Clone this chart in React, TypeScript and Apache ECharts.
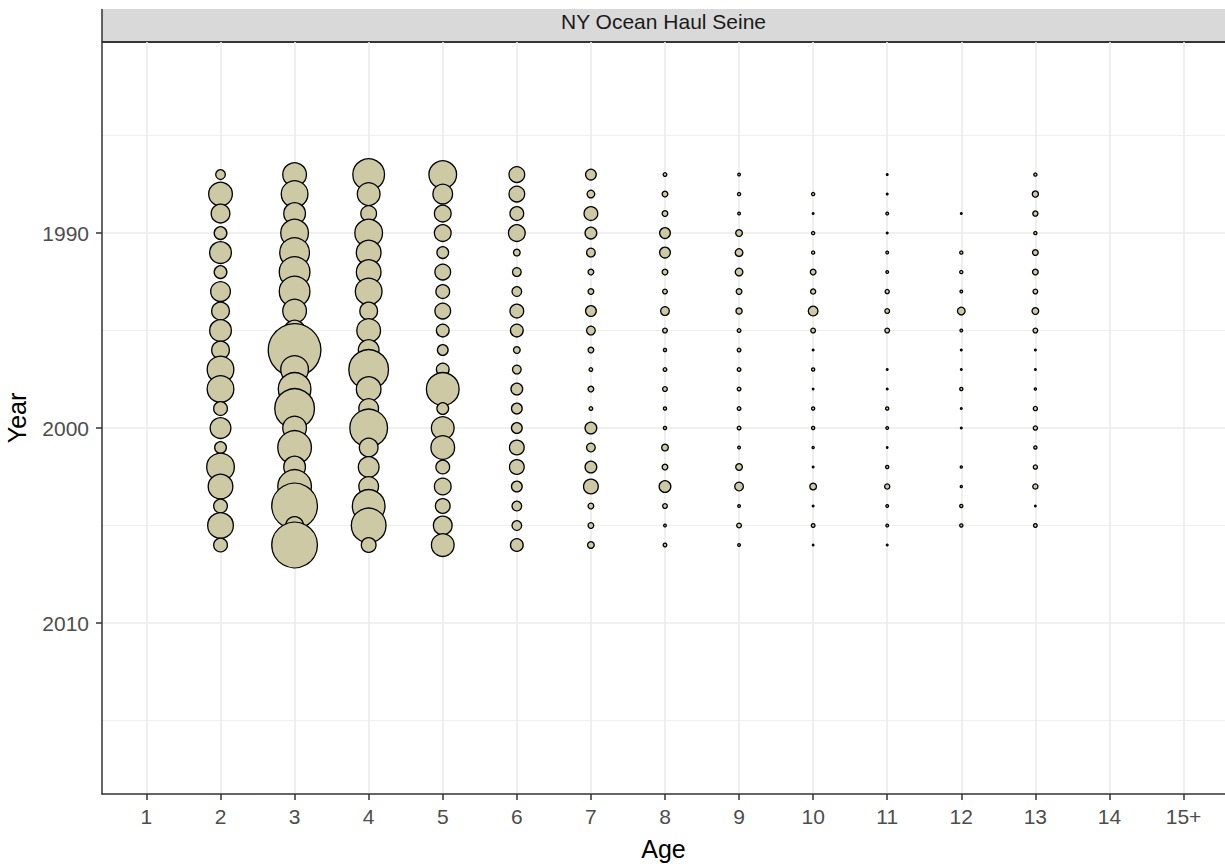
import React, { useEffect, useRef } from "react";
import * as echarts from "echarts";

const ageLabels = ["1", "2", "3", "4", "5", "6", "7", "8", "9", "10", "11", "12", "13", "14", "15+"];
const years = [1987, 1988, 1989, 1990, 1991, 1992, 1993, 1994, 1995, 1996, 1997, 1998, 1999, 2000, 2001, 2002, 2003, 2004, 2005, 2006];
const yearTicks = [1990, 2000, 2010];
const yearMinor = [1985, 1995, 2005, 2015];
const stripTitle = "NY Ocean Haul Seine";

// relative abundance index by age (rows follow `years`)
const age2 = [121, 625, 400, 196, 529, 196, 441, 361, 529, 361, 784, 784, 225, 484, 169, 841, 676, 225, 729, 225];
const age3 = [625, 784, 529, 841, 961, 1024, 1024, 625, 484, 2916, 841, 1156, 1681, 625, 1225, 529, 1225, 2209, 361, 2209];
const age4 = [1089, 576, 289, 841, 676, 676, 784, 361, 625, 484, 1681, 676, 441, 1521, 400, 484, 441, 1156, 1296, 256];
const age5 = [841, 441, 324, 324, 169, 289, 225, 289, 196, 144, 196, 1156, 169, 576, 625, 225, 324, 256, 400, 576];
const age6 = [289, 289, 225, 324, 64, 100, 121, 225, 196, 64, 100, 169, 144, 144, 256, 256, 144, 121, 121, 196];
const age7 = [144, 81, 225, 169, 100, 49, 49, 144, 100, 49, 25, 49, 25, 169, 100, 169, 256, 49, 49, 64];
const age8 = [25, 49, 49, 144, 144, 49, 36, 100, 36, 20, 25, 36, 20, 20, 64, 49, 169, 36, 16, 25];
const age9 = [16, 20, 16, 64, 81, 81, 49, 56, 25, 25, 25, 25, 25, 25, 16, 64, 100, 16, 36, 16];
const age10 = [null, 20, 9, 20, 20, 49, 42, 121, 36, 9, 20, 4, 20, 20, 12, 9, 64, 9, 25, 6];
const age11 = [9, 9, 16, 9, 16, 16, 30, 36, 36, null, 9, 9, 20, 16, 6, 20, 42, 16, 16, 9];
const age12 = [null, null, 9, null, 20, 20, 16, 81, 16, 9, 9, 20, 9, 9, null, 12, 12, 20, 20, null];
const age13 = [20, 56, 42, 20, 49, 49, 36, 64, 36, 9, 9, 12, 30, 30, 20, 30, 42, 4, 25, null];

const byAge: [number, (number | null)[]][] = [
  [2, age2], [3, age3], [4, age4], [5, age5], [6, age6], [7, age7],
  [8, age8], [9, age9], [10, age10], [11, age11], [12, age12], [13, age13],
];

const FONT = "'Liberation Sans', Arial, sans-serif";

export default function App() {
  const ref = useRef<HTMLDivElement>(null);
  useEffect(() => {
    if (!ref.current) return;
    const chart = echarts.init(ref.current, null, { renderer: "svg" });
    const points: number[][] = [];
    byAge.forEach(([age, vals]) => {
      vals.forEach((v, i) => {
        if (v !== null && v !== undefined) points.push([age, years[i], v]);
      });
    });
    const gridMarks: any[] = [];
    ageLabels.forEach((_, i) => gridMarks.push({ xAxis: i + 1, lineStyle: { width: 1.6 } }));
    yearTicks.forEach((y) => gridMarks.push({ yAxis: y, lineStyle: { width: 1.6 } }));
    yearMinor.forEach((y) => gridMarks.push({ yAxis: y, lineStyle: { width: 0.8 } }));

    chart.setOption({
      animation: false,
      backgroundColor: "#ffffff",
      textStyle: { fontFamily: FONT },
      grid: { left: 102, top: 42, right: 0, bottom: 73, containLabel: false, outerBoundsMode: "none" },
      xAxis: {
        type: "value",
        min: 0.4,
        max: 15.56,
        z: 3,
        name: "Age",
        nameLocation: "middle",
        nameGap: 42,
        nameTextStyle: { fontSize: 25, color: "#000", fontFamily: FONT },
        splitLine: { show: false },
        axisLine: { show: true, onZero: false, lineStyle: { color: "#333333", width: 1.5 } },
        axisTick: { show: true, length: 6, lineStyle: { color: "#333333", width: 1.5 }, customValues: ageLabels.map((_, i) => i + 1) },
        axisLabel: {
          margin: 12,
          fontSize: 21,
          color: "#4d4d4d",
          fontFamily: FONT,
          customValues: ageLabels.map((_, i) => i + 1),
          formatter: (v: number) => ageLabels[Math.round(v) - 1] ?? "",
        },
      },
      yAxis: {
        type: "value",
        inverse: true,
        min: 1980.2,
        max: 2018.77,
        z: 3,
        name: "Year",
        nameLocation: "middle",
        nameGap: 73,
        nameRotate: 90,
        nameTextStyle: { fontSize: 25, color: "#000", fontFamily: FONT },
        splitLine: { show: false },
        axisLine: { show: true, onZero: false, lineStyle: { color: "#333333", width: 1.5 } },
        axisTick: { show: true, length: 6, lineStyle: { color: "#333333", width: 1.5 }, customValues: yearTicks },
        axisLabel: {
          margin: 13,
          fontSize: 21,
          color: "#4d4d4d",
          fontFamily: FONT,
          customValues: yearTicks,
          formatter: (v: number) => String(v),
        },
      },
      series: [
        {
          type: "scatter",
          data: [],
          z: 1,
          silent: true,
          markLine: {
            z: 1,
            silent: true,
            symbol: "none",
            label: { show: false },
            lineStyle: { color: "#ebebeb", type: "solid", width: 1.6 },
            data: gridMarks,
          },
        },
        {
          type: "scatter",
          z: 2,
          data: points,
          symbol: "circle",
          symbolSize: (d: number[]) => Math.max(1.5, Math.sqrt(d[2]) - 1.3),
          itemStyle: { color: "#CDC9A5", borderColor: "#000000", borderWidth: 1.3, opacity: 1 },
        },
      ],
      graphic: [
        { type: "rect", shape: { x: 102, y: 9, width: 1123, height: 33 }, style: { fill: "#d9d9d9" }, silent: true },
        { type: "line", shape: { x1: 102, y1: 42, x2: 1225, y2: 42 }, style: { stroke: "#333333", lineWidth: 1.8 }, silent: true },
        { type: "line", shape: { x1: 102, y1: 9, x2: 102, y2: 42 }, style: { stroke: "#333333", lineWidth: 1.5 }, silent: true },
        {
          type: "text",
          x: 663.5,
          y: 21,
          style: { text: stripTitle, fill: "#1a1a1a", font: `21px ${FONT}`, textAlign: "center", textVerticalAlign: "middle" },
          silent: true,
        },
      ],
    });
    return () => chart.dispose();
  }, []);
  return <div ref={ref} style={{ position: "absolute", left: 0, top: 0, width: 1225, height: 867 }} />;
}
